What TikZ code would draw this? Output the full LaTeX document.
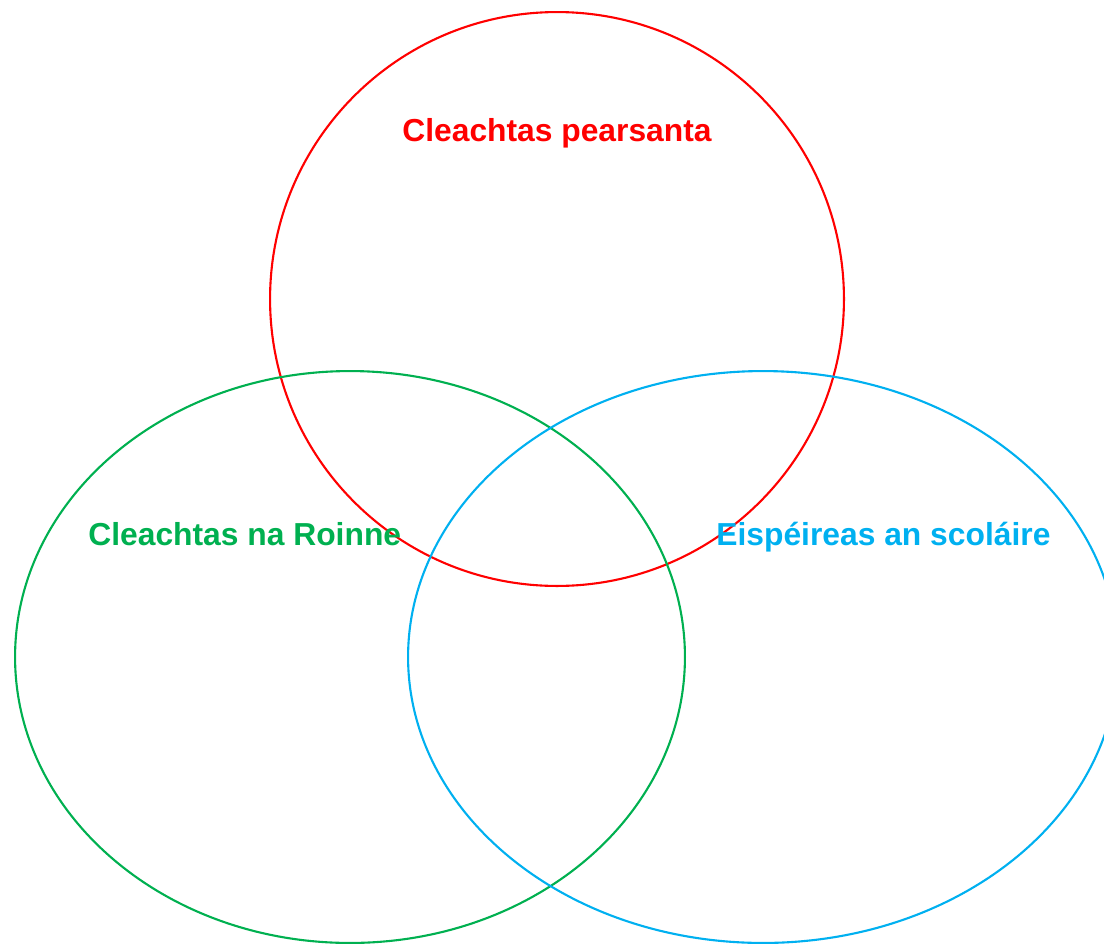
\documentclass[tikz,border=0pt]{standalone}
\usepackage{fontspec}
\setmainfont{Liberation Sans}
\usetikzlibrary{shapes.geometric}
\definecolor{setred}{RGB}{255,0,0}
\definecolor{setgreen}{RGB}{0,176,80}
\definecolor{setblue}{RGB}{0,176,240}

\begin{document}
\begin{tikzpicture}[
    x=0.02cm, y=-0.02cm,
    set/.style={ellipse, draw, line width=1.2pt, inner sep=0pt},
    setlabel/.style={font=\fontsize{18.1}{21}\selectfont\bfseries, inner sep=0pt}
]
\clip (0,0) rectangle (1104,943);
\node[set, draw=setred, minimum width=11.48cm, minimum height=11.48cm] (personal) at (557,299) {};
\node[set, draw=setgreen, minimum width=13.4cm, minimum height=11.44cm] (dept) at (350,657) {};
\node[set, draw=setblue, minimum width=14.2cm, minimum height=11.44cm] (pupil) at (763,657) {};
\node[setlabel, text=setred, anchor=base] (personallbl) at (557,141) {Cleachtas pearsanta};
\node[setlabel, text=setgreen, anchor=base west] (deptlbl) at (88,545) {Cleachtas na Roinne};
\node[setlabel, text=setblue, anchor=base west] (pupillbl) at (716,545) {Eispéireas an scoláire};
\end{tikzpicture}
\end{document}
